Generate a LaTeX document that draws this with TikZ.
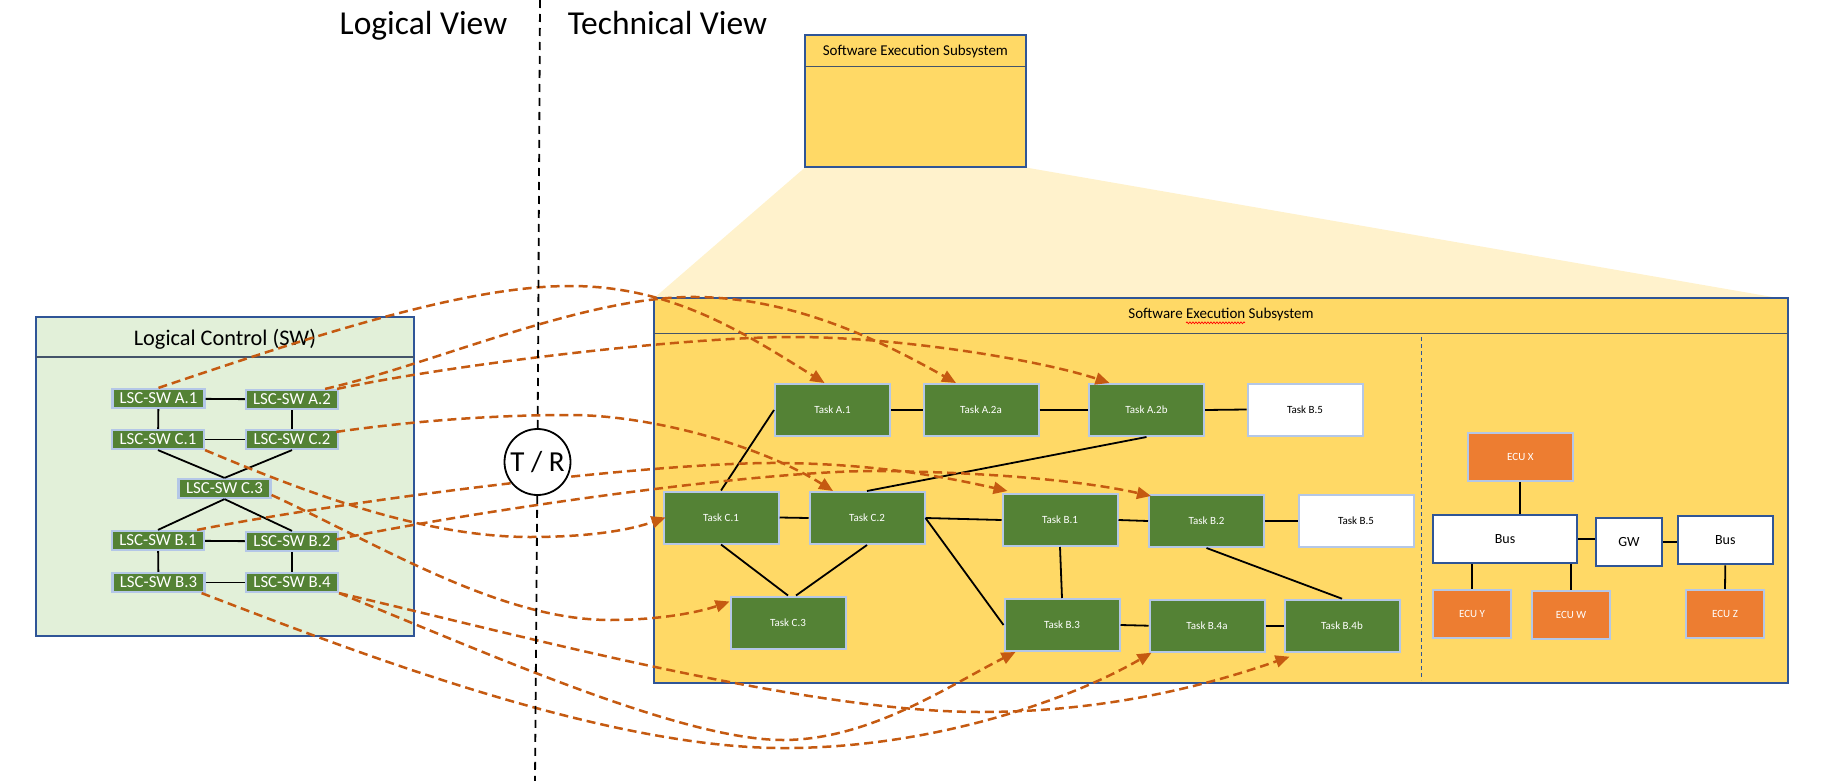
\documentclass[tikz,border=0pt]{standalone}
\usepackage{fontspec}
\setmainfont{Carlito}
\usetikzlibrary{arrows.meta,decorations.pathmorphing,calc}

\definecolor{lscgreen}{HTML}{548235}
\definecolor{lblue}{HTML}{B4C7E7}
\definecolor{dblue}{HTML}{2F5597}
\definecolor{hdr}{HTML}{44546A}
\definecolor{gold}{HTML}{FFD966}
\definecolor{paleyellow}{HTML}{FFF2CC}
\definecolor{palegreen}{HTML}{E2F0D9}
\definecolor{ecuorange}{HTML}{ED7D31}
\definecolor{maporange}{HTML}{C55A11}

\begin{document}
\begin{tikzpicture}[x=1pt,y=-1pt,
  lsc/.style={draw=lblue, line width=2.2pt, fill=lscgreen, text=white, minimum width=92pt, minimum height=19pt, inner sep=0pt, font=\fontsize{16.8}{18}\selectfont},
  task/.style={draw=lblue, line width=2pt, fill=lscgreen, text=white, minimum width=115pt, minimum height=52pt, inner sep=0pt, font=\fontsize{11}{13}\selectfont},
  wtask/.style={task, fill=white, text=black},
  ecu/.style={draw=lblue, line width=2pt, fill=ecuorange, text=white, minimum height=48pt, inner sep=0pt, font=\fontsize{11}{13}\selectfont},
  busbox/.style={draw=dblue, line width=2pt, fill=white, text=black, minimum height=48pt, inner sep=0pt, font=\fontsize{14}{16}\selectfont},
  container/.style={draw=dblue, line width=2pt, inner sep=0pt},
  hdrline/.style={draw=hdr, line width=1.2pt},
  link/.style={draw=black, line width=1.8pt},
  map/.style={draw=maporange, line width=2.5pt, dash pattern=on 9pt off 5pt, -{Triangle[length=14pt,width=12pt]}},
  divider/.style={draw=black, line width=1.8pt, dash pattern=on 8pt off 6pt}
]
\useasboundingbox (0,0) rectangle (1822,781);

% zoom projection
\fill[paleyellow] (805,167.5) -- (1025.8,167.5) -- (1780,298.3) -- (653.8,298.3) -- cycle;

% small subsystem box
\node[container, fill=gold, minimum width=220.8pt, minimum height=132.3pt] (sesmall) at (915.4,101.3) {};
\draw[hdrline] (805,66.7) -- (1025.8,66.7);
\node[font=\fontsize{15}{18}\selectfont] (sesmalltitle) at (915.4,51.7) {Software Execution Subsystem};

% big subsystem box
\node[container, fill=gold, minimum width=1133.9pt, minimum height=385pt] (sebig) at (1220.75,490.8) {};
\draw[hdrline] (653.8,333.3) -- (1787.7,333.3);
\node[font=\fontsize{15}{18}\selectfont] (sebigtitle) at (1221,314) {Software Execution Subsystem};
\draw[red, line width=0.7pt, decorate, decoration={snake, amplitude=0.9pt, segment length=3pt}] (1186,322.8) -- (1245,322.8);
\draw[dblue, line width=1pt, dash pattern=on 4pt off 3pt] (1421,337) -- (1421,680);

% logical control box
\node[container, fill=palegreen, minimum width=378.4pt, minimum height=319pt] (lc) at (225,476.25) {};
\draw[hdrline] (35.8,357) -- (414.2,357);
\node[font=\fontsize{22.3}{26}\selectfont] (lctitle) at (225,339.5) {Logical Control (SW)};

% view titles
\node[anchor=base, inner sep=0pt, font=\fontsize{33.5}{40}\selectfont] (lvtitle) at (423.5,35) {Logical View};
\node[anchor=base, inner sep=0pt, font=\fontsize{33.5}{40}\selectfont] (tvtitle) at (667.5,35) {Technical View};

% LSC nodes
\node[lsc] (lA1) at (158.5,398.5) {LSC-SW A.1};
\node[lsc] (lA2) at (292,399.5) {LSC-SW A.2};
\node[lsc] (lC1) at (158,439.5) {LSC-SW C.1};
\node[lsc] (lC2) at (292,439.5) {LSC-SW C.2};
\node[lsc] (lC3) at (224.5,488.5) {LSC-SW C.3};
\node[lsc] (lB1) at (158,540.5) {LSC-SW B.1};
\node[lsc] (lB2) at (292,541.5) {LSC-SW B.2};
\node[lsc] (lB3) at (158.5,582.5) {LSC-SW B.3};
\node[lsc] (lB4) at (292,582.5) {LSC-SW B.4};

\draw[link] (lA1) -- (lA2);
\draw[link] (lA1) -- (lC1);
\draw[link] (lA2) -- (lC2);
\draw[link] (lC1) -- (lC2);
\draw[link] (lC1.south) -- (lC3.north);
\draw[link] (lC2.south) -- (lC3.north);
\draw[link] (lC3.south) -- (lB1.north);
\draw[link] (lC3.south) -- (lB2.north);
\draw[link] (lB1) -- (lB2);
\draw[link] (lB1) -- (lB3);
\draw[link] (lB2) -- (lB4);
\draw[link] (lB3) -- (lB4);

% tasks
\node[task] (tA1) at (832.5,410) {Task A.1};
\node[task] (tA2a) at (981,410) {Task A.2a};
\node[task] (tA2b) at (1146.5,410) {Task A.2b};
\node[wtask] (tB5a) at (1305,409.5) {Task B.5};
\node[task] (tC1) at (721,517.5) {Task C.1};
\node[task] (tC2) at (867,518) {Task C.2};
\node[task] (tB1) at (1060,520) {Task B.1};
\node[task] (tB2) at (1206.5,521) {Task B.2};
\node[wtask] (tB5b) at (1356,521) {Task B.5};
\node[task] (tC3) at (788,622.5) {Task C.3};
\node[task] (tB3) at (1062,625) {Task B.3};
\node[task] (tB4a) at (1207,625.7) {Task B.4a};
\node[task] (tB4b) at (1342,625.7) {Task B.4b};

\draw[link] (tA1.west) -- (tC1.north);
\draw[link] (tA1.east) -- (tA2a.west);
\draw[link] (tA2a.east) -- (tA2b.west);
\draw[link] (tA2b.east) -- (tB5a.west);
\draw[link] (tA2b.south) -- (tC2.north);
\draw[link] (tC1.east) -- (tC2.west);
\draw[link] (tC1.south) -- (tC3.north);
\draw[link] (tC2.south) -- ([xshift=8pt]tC3.north);
\draw[link] (tC2.east) -- (tB1.west);
\draw[link] (tC2.east) -- (tB3.west);
\draw[link] (tB1.east) -- (tB2.west);
\draw[link] (tB2.east) -- (tB5b.west);
\draw[link] (tB1.south) -- (tB3.north);
\draw[link] (tB2.south) -- (tB4b.north);
\draw[link] (tB3.east) -- (tB4a.west);
\draw[link] (tB4a.east) -- (tB4b.west);

% ECU / bus
\node[ecu, minimum width=105pt] (ecuX) at (1520.3,457) {ECU X};
\node[busbox, minimum width=144.7pt] (bus1) at (1505,539) {Bus};
\node[busbox, minimum width=66.7pt] (gw) at (1629,541.8) {GW};
\node[busbox, minimum width=95.3pt, minimum height=48.7pt] (bus2) at (1725.3,540) {Bus};
\node[ecu, minimum width=78pt] (ecuY) at (1472,614) {ECU Y};
\node[ecu, minimum width=78pt] (ecuW) at (1571,615) {ECU W};
\node[ecu, minimum width=78pt] (ecuZ) at (1725,614) {ECU Z};

\draw[link] (ecuX.south) -- (ecuX.south |- bus1.north);
\draw[link] (ecuY.north |- bus1.south) -- (ecuY.north);
\draw[link] (ecuW.north |- bus1.south) -- (ecuW.north);
\draw[link] (bus1.east) -- (gw.west |- bus1.east);
\draw[link] (gw.east) -- (bus2.west |- gw.east);
\draw[link] (bus2.south) -- (ecuZ.north);

% mapping curves
\draw[map] (lA1.north) .. controls (330,330) and (470,286) .. (570,286) .. controls (670,286) and (740,330) .. ([xshift=-8pt]tA1.north);
\draw[map] ([xshift=-14pt]lA2.north east) .. controls (430,365) and (580,298) .. (690,297) .. controls (790,296) and (880,340) .. ([xshift=-25pt]tA2a.north);
\draw[map] ([xshift=-2pt]lA2.north east) .. controls (450,365) and (680,337) .. (793,337) .. controls (900,337) and (1040,360) .. ([xshift=-37pt]tA2b.north);
\draw[map] ([xshift=-3pt,yshift=-3pt]lC2.north east) .. controls (420,420) and (500,415) .. (570,415) .. controls (650,415) and (760,445) .. ([xshift=-34pt]tC2.north);
\draw[map] (lC1.south east) .. controls (300,490) and (420,537) .. (530,537) .. controls (590,537) and (630,530) .. ([xshift=3pt]tC1.west);
\draw[map] ([yshift=-6.5pt]lC3.east) .. controls (380,545) and (500,620) .. (610,620) .. controls (660,620) and (700,612) .. ([yshift=-6pt]tC3.north west);
\draw[map] ([xshift=-8pt]lB1.north east) .. controls (350,500) and (650,462) .. (780,463) .. controls (880,464) and (950,478) .. ([xshift=6pt,yshift=2pt]tB1.north west);
\draw[map] ([xshift=-3pt,yshift=2pt]lB2.east) .. controls (480,510) and (760,470) .. (880,471) .. controls (980,472) and (1080,480) .. ([xshift=3pt,yshift=-2pt]tB2.north west);
\draw[map] ([xshift=-4pt]lB3.south east) .. controls (350,650) and (600,747) .. (780,748) .. controls (930,749) and (1070,700) .. ([xshift=3pt]tB4a.south west);
\draw[map] (lB4.south east) .. controls (500,630) and (800,712) .. (980,712) .. controls (1100,712) and (1200,688) .. ([xshift=6pt,yshift=-4pt]tB4b.south west);
\draw[map] (lB4.south east) .. controls (480,650) and (680,740) .. (783,740) .. controls (870,740) and (950,685) .. ([xshift=12pt]tB3.south west);

% T / R divider
\node[circle, draw, line width=1.8pt, fill=white, minimum size=66pt, inner sep=0pt, font=\fontsize{29}{34}\selectfont] (tr) at (537.5,462) {T / R};
\coordinate (vtop) at (540,0);
\coordinate (vbot) at (535,781);
\draw[divider] (vtop) -- (tr);
\draw[divider] (tr) -- (vbot);
\end{tikzpicture}
\end{document}
